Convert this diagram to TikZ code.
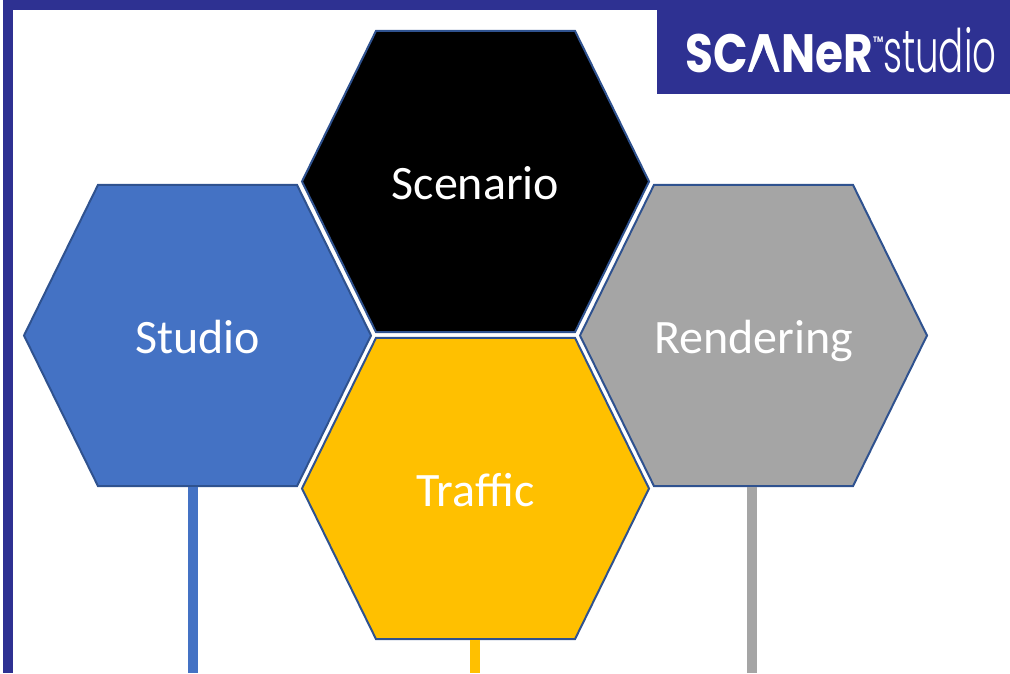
\documentclass[tikz,border=0pt]{standalone}
\usepackage{fontspec}
\setmainfont{Carlito}
\newfontfamily\logobold{Poppins}[UprightFont=* Bold, FakeStretch=0.84]
\newfontfamily\logolight{Poppins}[UprightFont=* Light, FakeStretch=0.62]
\definecolor{frameblue}{HTML}{2E3192}
\definecolor{hexblue}{HTML}{4472C4}
\definecolor{hexgold}{HTML}{FFC000}
\definecolor{hexgray}{HTML}{A5A5A5}
\definecolor{hexline}{HTML}{2F528F}
\tikzset{
  hexa/.style={draw=hexline, line width=2pt, line join=miter},
  hexlabel/.style={text=white, inner sep=0pt, yshift=-2pt, font=\fontsize{48}{48}\selectfont, text height=31pt, text depth=0pt},
  logotext/.style={text=white, inner sep=0pt, anchor=base west},
  stem/.style={line width=10pt}
}
% name, centre, fill, label
\newcommand{\hexcell}[4]{
  \draw[hexa, fill=#3] (#2) +(-173.5,0) -- +(-99.5,-150.6) -- +(99.5,-150.6) -- +(173.5,0)
    -- +(99.5,150.6) -- +(-99.5,150.6) -- cycle;
  \node[hexlabel] (#1) at (#2) {#4};
}
\begin{document}
\begin{tikzpicture}[x=1pt, y=-1pt]
      \useasboundingbox (0,0) rectangle (1010,673);

      % frame and logo
      \fill[frameblue] (2.5,0) rectangle (13,673);
      \fill[frameblue] (2.5,0) rectangle (1010,10);
      \fill[frameblue] (657,0) rectangle (1010,94);
      \node[logotext, font=\logobold\fontsize{54}{54}\selectfont] (logo) at (685,72) {SCANeR};
      \fill[frameblue] (763.5,47) -- (775.5,73.5) -- (751.5,73.5) -- cycle; % no bar in the A
      \node[logotext, font=\logobold\fontsize{8}{8}\selectfont] (tm) at (873,42) {TM};
      \node[logotext, font=\logolight\fontsize{60}{60}\selectfont] (logostudio) at (883,72) {studio};

      % hexagons
      \hexcell{scenario}{475.5,181.5}{black}{Scenario}
      \hexcell{studio}{197.5,335.5}{hexblue}{Studio}
      \hexcell{traffic}{475.5,488.5}{hexgold}{Traffic}
      \hexcell{rendering}{753.5,335.5}{hexgray}{Rendering}

      % stems going off the page
      \coordinate (studiotop) at (192.5,487);
      \coordinate (studioend) at (192.5,673);
      \coordinate (traffictop) at (475,640);
      \coordinate (trafficend) at (475,673);
      \coordinate (renderingtop) at (752,487);
      \coordinate (renderingend) at (752,673);
      \draw[stem, hexblue] (studiotop) -- (studioend);
      \draw[stem, hexgold] (traffictop) -- (trafficend);
      \draw[stem, hexgray] (renderingtop) -- (renderingend);
\end{tikzpicture}
\end{document}
